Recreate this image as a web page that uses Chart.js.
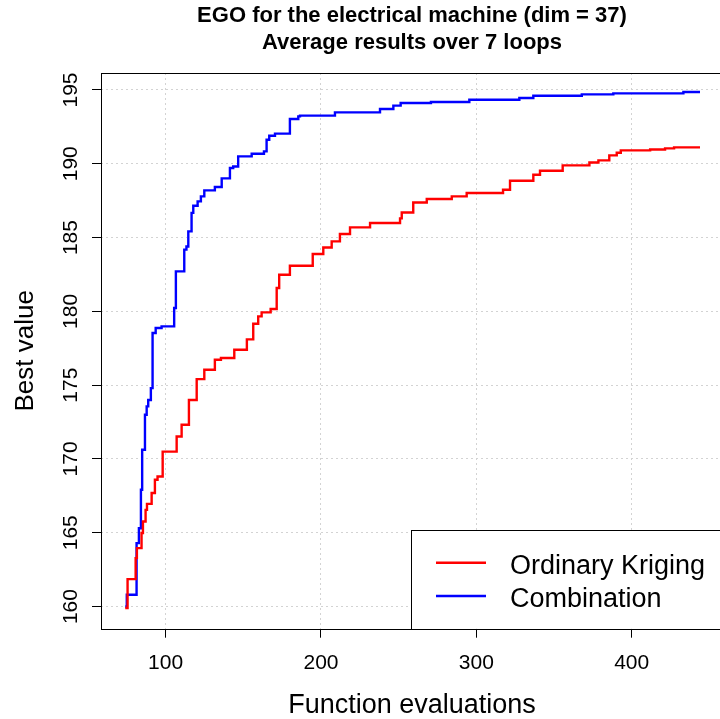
<!DOCTYPE html>
<html>
<head>
<meta charset="utf-8">
<script src="https://cdn.jsdelivr.net/npm/chart.js@4.4.1/dist/chart.umd.min.js"></script>
<style>
  html, body { margin: 0; padding: 0; overflow: hidden; background: #fff; }
  #wrap { position: relative; width: 724px; height: 719px; }
</style>
</head>
<body>
<div id="wrap"><canvas id="chart"></canvas></div>
<script>
// --- data ---
const titleLines = ['EGO for the electrical machine (dim = 37)', 'Average results over 7 loops'];
const xTitle = 'Function evaluations';
const yTitle = 'Best value';
const xTicks = [100, 200, 300, 400];
const yTicks = [160, 165, 170, 175, 180, 185, 190, 195];
const seriesNames = ['Ordinary Kriging', 'Combination'];
const seriesColors = ['#ff0000', '#0000ff'];

// Ordinary Kriging (red) step points: evaluation where a new best value starts
const krigingX = [74, 75.5, 80.7, 81.5, 84.5, 85.4, 87.1, 88.0, 91.0, 93.1, 94.8, 98.1, 107.1, 110.3,
  115.0, 120.0, 124.9, 131.7, 135.6, 144.2, 152.3, 156.4, 159.6, 161.8, 167.6, 171.5, 173.1, 180.0,
  194.7, 201.5, 206.9, 212.2, 218.7, 231.6, 250.9, 252.0, 259.4, 268.1, 284.2, 293.8, 317.2, 321.7,
  336.7, 341.0, 355.6, 372.8, 378.6, 385.6, 390.4, 393.0, 411.9, 421.5, 427.3, 444];
const krigingY = [159.9, 161.86, 163.28, 163.96, 164.98, 165.76, 166.55, 166.96, 167.69, 168.59, 168.81, 170.5, 171.52, 172.32,
  174.0, 175.41, 176.04, 176.72, 176.84, 177.4, 178.1, 179.16, 179.66, 179.93, 180.16, 181.58, 182.48, 183.09,
  183.89, 184.33, 184.74, 185.24, 185.69, 185.99, 186.3, 186.7, 187.38, 187.61, 187.79, 188.02, 188.24, 188.85,
  189.26, 189.53, 189.89, 190.09, 190.23, 190.57, 190.75, 190.91, 190.97, 191.04, 191.11, 191.11];

// Combination (blue)
const comboX = [74, 75, 81.3, 82.8, 84.1, 84.9, 86.7, 87.8, 88.8, 90.5, 91.6, 93.6, 97.4, 105.5, 106.6,
  112.0, 113.4, 114.6, 116.7, 117.8, 120.6, 122.7, 124.9, 131.7, 136.1, 141.4, 143.5, 146.7, 155.4,
  163.3, 165.0, 166.7, 170.4, 180.0, 185.4, 186.5, 209.0, 238.0, 246.6, 251.3, 270.8, 295.5, 327.7,
  336.7, 367.9, 388.2, 433.3, 444];
const comboY = [160.0, 160.8, 164.3, 165.31, 167.91, 170.62, 173.0, 173.56, 174.0, 174.8, 178.53, 178.87, 178.98, 180.23, 182.71,
  184.18, 184.4, 185.42, 186.67, 187.16, 187.45, 187.79, 188.2, 188.43, 189.01, 189.71, 189.82, 190.5, 190.68,
  190.84, 191.63, 191.9, 192.04, 193.03, 193.21, 193.26, 193.48, 193.71, 193.94, 194.12, 194.19, 194.34, 194.46,
  194.61, 194.7, 194.77, 194.86, 194.86];

const FONT = '"Liberation Sans", Arial, sans-serif';

function toPoints(xs, ys) {
  return xs.map((x, i) => ({ x: x, y: ys[i] }));
}

// Draws the R-style box, labels, title and legend
const decor = {
  id: 'decor',
  afterDraw(chart) {
    const { ctx, chartArea: a, scales: { x, y } } = chart;
    ctx.save();

    // plot box
    ctx.strokeStyle = '#000';
    ctx.lineWidth = 1;
    ctx.strokeRect(Math.round(a.left) + 0.5, Math.round(a.top) + 0.5,
      Math.round(a.right - a.left), Math.round(a.bottom - a.top));

    ctx.fillStyle = '#000';

    // title
    ctx.font = 'bold 22px ' + FONT;
    ctx.textAlign = 'center';
    ctx.textBaseline = 'alphabetic';
    const cx = (a.left + a.right) / 2;
    ctx.fillText(titleLines[0], cx, 22);
    ctx.fillText(titleLines[1], cx, 49);

    // x tick labels
    ctx.font = '21px ' + FONT;
    xTicks.forEach(v => ctx.fillText(String(v), x.getPixelForValue(v), 668.5));

    // y tick labels (rotated like R's las = 0)
    yTicks.forEach(v => {
      ctx.save();
      ctx.translate(76.7, y.getPixelForValue(v));
      ctx.rotate(-Math.PI / 2);
      ctx.fillText(String(v), 0, 0);
      ctx.restore();
    });

    // axis titles
    ctx.font = '27px ' + FONT;
    ctx.fillText(xTitle, cx, 713);
    ctx.save();
    ctx.translate(33.3, (a.top + a.bottom) / 2);
    ctx.rotate(-Math.PI / 2);
    ctx.font = '26px ' + FONT;
    ctx.fillText(yTitle, 0, 0);
    ctx.restore();

    // legend
    const lx = 411.5, ly = 530.5;
    ctx.fillStyle = '#fff';
    ctx.fillRect(lx, ly, a.right - lx + 2, a.bottom - ly);
    ctx.strokeStyle = '#000';
    ctx.strokeRect(lx, ly, a.right - lx + 5, Math.round(a.bottom) + 0.5 - ly);
    const rows = [562.7, 596];
    const bases = [574, 607.3];
    seriesNames.forEach((name, i) => {
      ctx.strokeStyle = seriesColors[i];
      ctx.lineWidth = 2.4;
      ctx.beginPath();
      ctx.moveTo(436, rows[i]);
      ctx.lineTo(486, rows[i]);
      ctx.stroke();
      ctx.fillStyle = '#000';
      ctx.font = '27px ' + FONT;
      ctx.textAlign = 'left';
      ctx.fillText(name, 510, bases[i]);
    });

    ctx.restore();
  }
};

const gridStyle = {
  color: '#d3d3d3',
  lineWidth: 1,
  drawTicks: true,
  tickLength: 9,
  tickColor: '#000',
  tickWidth: 1
};

new Chart(document.getElementById('chart'), {
  type: 'line',
  data: {
    datasets: [
      {
        label: seriesNames[0],
        data: toPoints(krigingX, krigingY),
        borderColor: seriesColors[0],
        borderWidth: 2.4,
        stepped: 'before',
        pointRadius: 0,
        fill: false
      },
      {
        label: seriesNames[1],
        data: toPoints(comboX, comboY),
        borderColor: seriesColors[1],
        borderWidth: 2.4,
        stepped: 'before',
        pointRadius: 0,
        fill: false
      }
    ]
  },
  options: {
    responsive: true,
    maintainAspectRatio: false,
    animation: false,
    layout: { padding: { top: 73, right: 1, bottom: 0, left: 0 } },
    plugins: {
      legend: { display: false },
      title: { display: false },
      tooltip: { enabled: false }
    },
    scales: {
      x: {
        type: 'linear',
        min: 58.4,
        max: 458.8,
        grid: gridStyle,
        border: { display: false, dash: [2, 3] },
        ticks: { display: false },
        afterBuildTicks: s => { s.ticks = xTicks.map(v => ({ value: v })); },
        afterFit: s => { s.height = 90.3; }
      },
      y: {
        type: 'linear',
        min: 158.5,
        max: 196.15,
        grid: gridStyle,
        border: { display: false, dash: [2, 3] },
        ticks: { display: false },
        afterBuildTicks: s => { s.ticks = yTicks.map(v => ({ value: v })); },
        afterFit: s => { s.width = 101; }
      }
    }
  },
  plugins: [decor]
});
</script>
</body>
</html>
